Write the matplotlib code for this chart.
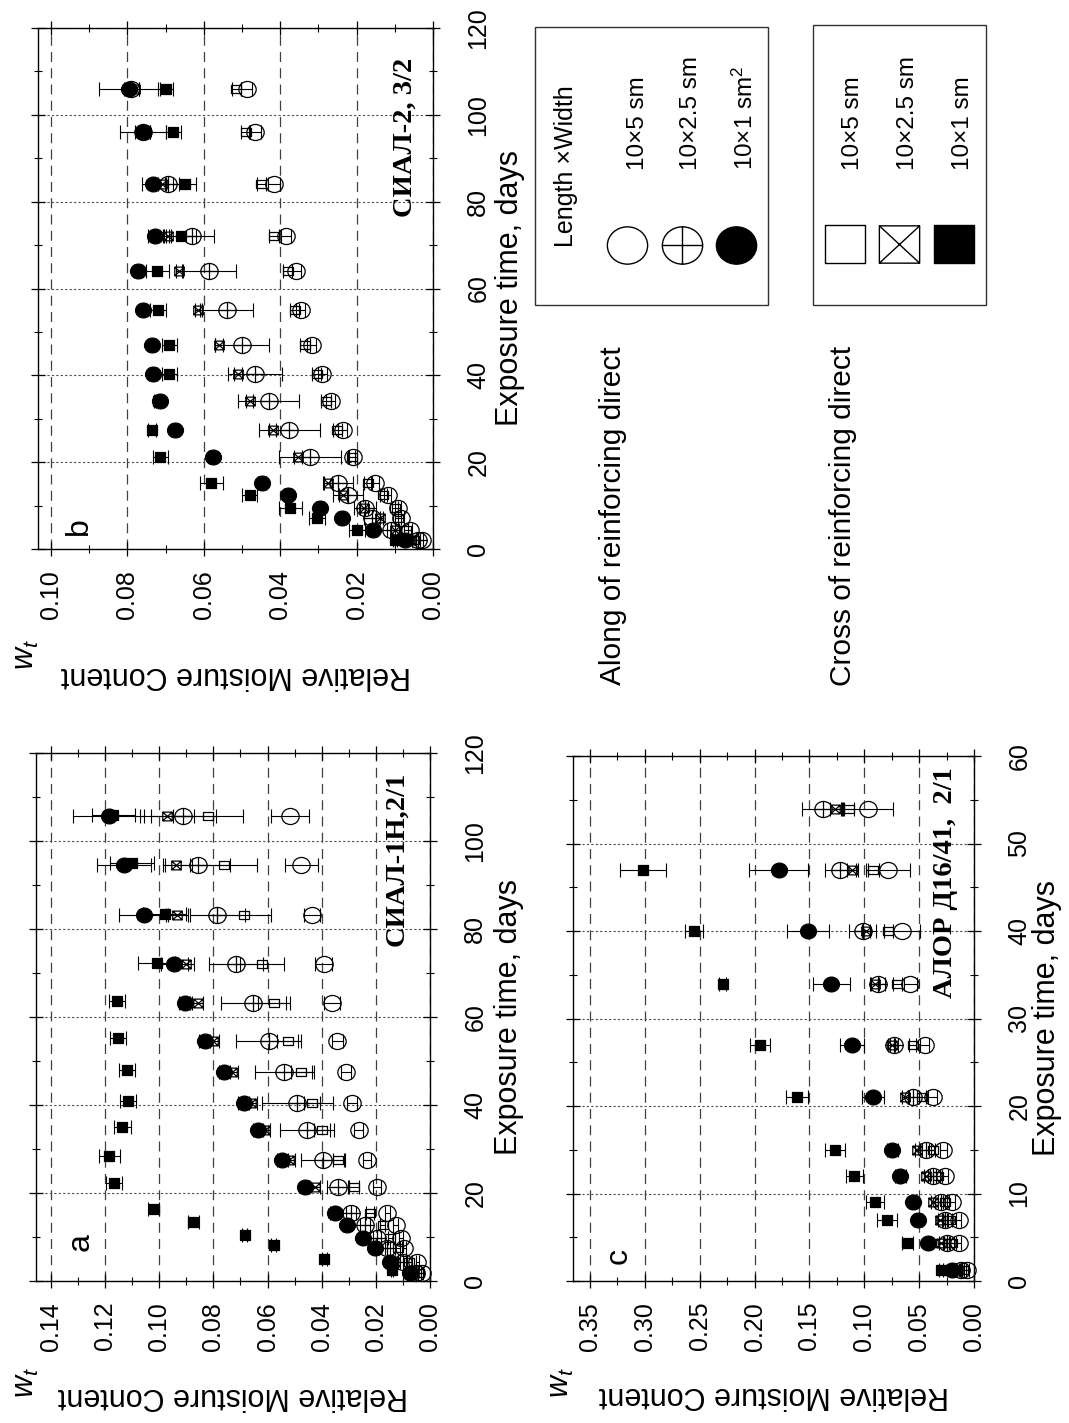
import numpy as np
import matplotlib
matplotlib.use("Agg")
import matplotlib.pyplot as plt
from matplotlib.path import Path
from matplotlib.patches import Rectangle
from matplotlib.ticker import MultipleLocator, FormatStrFormatter

plt.rcParams['font.family'] = ['Liberation Sans', 'DejaVu Sans']
plt.rcParams['mathtext.fontset'] = 'custom'
plt.rcParams['mathtext.it'] = 'Liberation Sans:italic'
plt.rcParams['mathtext.rm'] = 'Liberation Sans'

nan = np.nan

# ---- panel a: СИАЛ-1Н,2/1 ----
a_days = [1.8, 4.3, 7.5, 9.8, 12.7, 15.5, 21.4, 27.5, 34.3, 40.5, 47.5, 54.5, 63.2, 72, 83.1, 94.5, 105.7]
a_days_sq = [2.5, 5, 8.2, 10.5, 13.4, 16.3, 22.3, 28.3, 35, 41, 48, 55.3, 63.7, 72.2, 83.5, 95, 106]
a_open_circ = [0.003, 0.0047, 0.0095, 0.0108, 0.0127, 0.0158, 0.0196, 0.0232, 0.0264, 0.0288, 0.031, 0.0342, 0.0361, 0.0393, 0.0437, 0.0475, 0.0516]
a_plus_circ = [0.005, 0.010, 0.0158, 0.0196, 0.024, 0.0292, 0.034, 0.0395, 0.0455, 0.049, 0.0538, 0.0595, 0.0652, 0.0716, 0.0785, 0.0858, 0.0912]
a_fill_circ = [0.0074, 0.0148, 0.0203, 0.0248, 0.0307, 0.035, 0.046, 0.0545, 0.0635, 0.0688, 0.076, 0.0832, 0.0906, 0.0944, 0.1058, 0.1131, 0.1187]
a_open_sq = [0.004, 0.0076, 0.012, 0.0146, 0.0175, 0.022, 0.0282, 0.0338, 0.040, 0.0436, 0.0475, 0.0526, 0.0576, 0.062, 0.0688, 0.076, 0.082]
a_cross_sq = [0.006, 0.013, 0.020, 0.025, 0.031, 0.036, 0.0425, 0.052, 0.061, 0.066, 0.073, 0.080, 0.0858, 0.090, 0.0934, 0.0937, 0.097]
a_fill_sq = [0.014, 0.039, 0.0577, 0.0684, 0.0874, 0.102, 0.1168, 0.1184, 0.1136, 0.1115, 0.1118, 0.1153, 0.1155, 0.101, 0.098, 0.110, 0.117]
a_open_circ_err = [0.0005, 0.0005, 0.0008, 0.0008, 0.001, 0.001, 0.0015, 0.0015, 0.0015, 0.002, 0.002, 0.002, 0.003, 0.003, 0.003, 0.006, 0.007]
a_plus_circ_err = [0.0005, 0.001, 0.001, 0.0015, 0.002, 0.002, 0.004, 0.008, 0.010, 0.013, 0.011, 0.012, 0.012, 0.010, 0.010, 0.012, 0.012]
a_fill_circ_err = [0.0005, 0.001, 0.001, 0.001, 0.001, 0.001, 0.001, 0.002, 0.002, 0.002, 0.002, 0.002, 0.002, 0.005, 0.009, 0.010, 0.013]
a_open_sq_err = [0.0005, 0.001, 0.001, 0.001, 0.001, 0.0015, 0.002, 0.002, 0.003, 0.003, 0.004, 0.004, 0.006, 0.008, 0.010, 0.012, 0.013]
a_cross_sq_err = [0.0005, 0.001, 0.001, 0.001, 0.001, 0.001, 0.002, 0.002, 0.002, 0.002, 0.002, 0.002, 0.002, 0.003, 0.004, 0.005, 0.010]
a_fill_sq_err = [0.0005, 0.001, 0.001, 0.001, 0.002, 0.002, 0.003, 0.004, 0.003, 0.003, 0.003, 0.003, 0.003, 0.007, 0.008, 0.008, 0.008]

# ---- panel b: СИАЛ-2, 3/2 ----
b_days = [2, 4.4, 7.1, 9.4, 12.4, 15.1, 21.3, 27.3, 34.2, 40.4, 47, 55, 64, 72, 84, 96, 106]
b_open_circ = [0.003, 0.006, 0.0083, 0.0092, 0.0119, 0.0152, 0.0209, 0.0236, 0.0268, 0.029, 0.0317, 0.0346, 0.0358, 0.0385, 0.0416, 0.0466, 0.0488]
b_plus_circ = [0.004, 0.011, 0.016, 0.0178, 0.0223, 0.0249, 0.0322, 0.0376, 0.043, 0.0466, 0.050, 0.054, 0.0586, 0.0632, 0.0695, 0.076, 0.079]
b_fill_circ = [0.0074, 0.0157, 0.0238, 0.0296, 0.038, 0.0448, 0.0577, 0.0676, 0.0714, 0.0733, 0.0736, 0.076, 0.0772, 0.0727, 0.0732, 0.076, 0.0795]
b_open_sq = [0.005, 0.007, 0.0092, 0.010, 0.013, 0.017, 0.0213, 0.025, 0.028, 0.0304, 0.0335, 0.0362, 0.038, 0.0416, 0.045, 0.049, 0.0515]
b_cross_sq = [0.006, 0.010, 0.014, 0.018, 0.0236, 0.0275, 0.0353, 0.042, 0.048, 0.051, 0.056, 0.0614, 0.0664, 0.0695, 0.071, 0.075, 0.078]
b_fill_sq = [0.010, 0.0199, 0.0304, 0.0374, 0.048, 0.058, 0.0714, 0.0736, 0.072, 0.069, 0.069, 0.072, 0.0722, 0.066, 0.065, 0.068, 0.070]
b_open_circ_err = [0.0005, 0.0005, 0.0008, 0.0008, 0.001, 0.001, 0.001, 0.0012, 0.0012, 0.0012, 0.0012, 0.0012, 0.0012, 0.0012, 0.0015, 0.0015, 0.0015]
b_plus_circ_err = [0.0005, 0.001, 0.002, 0.003, 0.004, 0.004, 0.008, 0.008, 0.008, 0.007, 0.007, 0.007, 0.007, 0.006, 0.003, 0.002, 0.002]
b_fill_circ_err = [0.0005, 0.001, 0.001, 0.001, 0.001, 0.001, 0.001, 0.001, 0.001, 0.001, 0.001, 0.001, 0.001, 0.002, 0.003, 0.006, 0.008]
b_open_sq_err = [0.0005, 0.0005, 0.0008, 0.0008, 0.001, 0.001, 0.001, 0.0012, 0.0012, 0.0012, 0.0012, 0.0012, 0.0012, 0.0012, 0.0012, 0.0012, 0.0012]
b_cross_sq_err = [0.0005, 0.001, 0.001, 0.001, 0.001, 0.001, 0.001, 0.001, 0.001, 0.001, 0.001, 0.001, 0.001, 0.001, 0.001, 0.001, 0.001]
b_fill_sq_err = [0.0005, 0.002, 0.002, 0.003, 0.002, 0.003, 0.002, 0.001, 0.001, 0.002, 0.002, 0.002, 0.003, 0.004, 0.003, 0.002, 0.002]

# ---- panel c: АЛОР Д16/41, 2/1 ----
c_days = [1.3, 4.3, 7, 9, 12, 15, 21, 27, 34, 40, 47, 54]
c_open_circ = [0.006, 0.014, 0.014, 0.020, 0.0266, 0.028, 0.0375, 0.045, 0.058, 0.0656, 0.078, 0.097]
c_plus_circ = [0.012, 0.025, 0.0266, 0.0297, 0.0375, 0.044, 0.056, 0.073, 0.0875, 0.1016, 0.122, 0.1375]
c_fill_circ = [0.020, 0.042, 0.051, 0.0556, 0.067, 0.0747, 0.092, 0.111, 0.130, 0.1516, 0.178, nan]
c_open_sq = [0.010, 0.020, 0.022, 0.0266, 0.033, 0.0375, 0.047, 0.056, 0.070, 0.078, 0.092, 0.114]
c_cross_sq = [0.015, 0.030, 0.031, 0.0375, 0.044, 0.0516, 0.0625, 0.075, 0.0906, 0.0984, 0.111, 0.1266]
c_fill_sq = [0.030, 0.061, 0.079, 0.090, 0.109, 0.127, 0.161, 0.195, 0.229, 0.255, 0.3016, nan]
c_open_circ_err = [0.001, 0.002, 0.002, 0.003, 0.003, 0.003, 0.004, 0.004, 0.006, 0.016, 0.020, 0.023]
c_plus_circ_err = [0.001, 0.002, 0.002, 0.003, 0.003, 0.003, 0.004, 0.004, 0.006, 0.012, 0.014, 0.019]
c_fill_circ_err = [0.002, 0.003, 0.004, 0.004, 0.005, 0.005, 0.010, 0.011, 0.017, 0.019, 0.027, nan]
c_open_sq_err = [0.001, 0.002, 0.002, 0.002, 0.002, 0.002, 0.003, 0.003, 0.004, 0.004, 0.005, 0.005]
c_cross_sq_err = [0.001, 0.002, 0.002, 0.002, 0.002, 0.002, 0.003, 0.003, 0.004, 0.004, 0.005, 0.005]
c_fill_sq_err = [0.002, 0.005, 0.009, 0.008, 0.008, 0.009, 0.010, 0.009, 0.003, 0.008, 0.021, nan]

along_labels = ['10×5 sm', '10×2.5 sm', '10×1 sm$^2$']
cross_labels = ['10×5 sm', '10×2.5 sm', '10×1 sm']


# marker shapes (slightly wide, like the scanned figure)
def ellipse_marker(cross=False, aspect=1.08):
    circ = Path.unit_circle()
    verts = [(x * aspect, y) for x, y in circ.vertices]
    codes = list(circ.codes)
    if cross:
        verts += [(-aspect, 0), (aspect, 0), (0, -1), (0, 1)]
        codes += [Path.MOVETO, Path.LINETO, Path.MOVETO, Path.LINETO]
    return Path(verts, codes)


def rect_marker(cross=False, aspect=1.08):
    a = aspect
    verts = [(-a, -1), (a, -1), (a, 1), (-a, 1), (-a, -1)]
    codes = [Path.MOVETO, Path.LINETO, Path.LINETO, Path.LINETO, Path.CLOSEPOLY]
    if cross:
        verts += [(-a, -1), (a, 1), (-a, 1), (a, -1)]
        codes += [Path.MOVETO, Path.LINETO, Path.MOVETO, Path.LINETO]
    return Path(verts, codes)


STYLES = {
    'open_circ': (ellipse_marker(), 12.5, 'none'),
    'plus_circ': (ellipse_marker(cross=True), 12.5, 'none'),
    'fill_circ': (ellipse_marker(), 11.5, 'black'),
    'open_sq': (rect_marker(), 6.8, 'none'),
    'cross_sq': (rect_marker(cross=True), 6.8, 'none'),
    'fill_sq': (rect_marker(), 7.2, 'black'),
}

W, H = 1069, 1423
fig = plt.figure(figsize=(W / 100, H / 100), dpi=100)

# overlay in pixel coordinates for the legend boxes and free text
ov = fig.add_axes([0, 0, 1, 1])
ov.set_xlim(0, W)
ov.set_ylim(H, 0)
ov.axis('off')


def px_axes(x0, y0, x1, y1):
    return fig.add_axes([x0 / W, 1 - y1 / H, (x1 - x0) / W, (y1 - y0) / H])


def draw_panel(ax, series, wmax, wstep, tmax, tstep,
               letter, letter_xy, title, title_xy, xlab_y, ylab_x, wt_xy):
    for key, days, vals, errs in series:
        path, ms, fc = STYLES[key]
        ax.errorbar(vals, days, xerr=errs, fmt='none', ecolor='black',
                    elinewidth=0.8, capsize=5, capthick=0.8, clip_on=False)
        ax.plot(vals, days, linestyle='none', marker=path, markersize=ms,
                markerfacecolor=fc, markeredgecolor='black',
                markeredgewidth=0.9, clip_on=False, zorder=3)

    ax.set_xlim(wmax, 0)
    ax.set_ylim(0, tmax)
    ax.xaxis.set_major_locator(MultipleLocator(wstep))
    ax.xaxis.set_minor_locator(MultipleLocator(wstep / 2))
    ax.xaxis.set_major_formatter(FormatStrFormatter('%.2f'))
    ax.yaxis.set_major_locator(MultipleLocator(tstep))
    ax.yaxis.set_minor_locator(MultipleLocator(tstep / 2))

    ax.tick_params(which='both', direction='inout', top=True, bottom=True,
                   left=True, right=True, labelleft=False, labelright=True,
                   labelbottom=True, labeltop=False)
    ax.tick_params(which='major', length=10, width=0.9)
    ax.tick_params(which='minor', length=6, width=0.8)
    ax.tick_params(axis='x', labelrotation=90, pad=10, labelsize=18)
    ax.tick_params(axis='y', labelrotation=90, pad=19, labelsize=18)
    for t in ax.yaxis.get_major_ticks():
        t.label2.set_va('center')

    ax.grid(True, axis='x', which='major', linestyle=(0, (8, 5)),
            linewidth=0.9, color='0.25')
    ax.grid(True, axis='y', which='major', linestyle=(0, (2, 2)),
            linewidth=0.8, color='0.3')
    for s in ax.spines.values():
        s.set_linewidth(1.0)

    ax.set_xlabel('Relative Moisture Content', rotation=180, fontsize=22,
                  va='center')
    ax.xaxis.set_label_coords(0.5, xlab_y)
    ax.yaxis.set_label_position('right')
    ax.set_ylabel('Exposure time, days', rotation=90, fontsize=22, va='center')
    ax.yaxis.set_label_coords(ylab_x, 0.5)

    ax.text(wt_xy[0], wt_xy[1], '$w_t$', transform=ax.transAxes, rotation=90,
            fontsize=22, ha='center', va='center')
    ax.text(letter_xy[0], letter_xy[1], letter, transform=ax.transAxes,
            rotation=90, fontsize=23, ha='center', va='center')
    ax.text(title_xy[0], title_xy[1], title, transform=ax.transAxes,
            rotation=90, fontsize=20.5, fontweight='bold',
            family=['Liberation Serif', 'DejaVu Serif'],
            ha='center', va='center')


ax_b = px_axes(38, 28, 433, 549)
draw_panel(ax_b,
           [('open_circ', b_days, b_open_circ, b_open_circ_err),
            ('plus_circ', b_days, b_plus_circ, b_plus_circ_err),
            ('open_sq', b_days, b_open_sq, b_open_sq_err),
            ('cross_sq', b_days, b_cross_sq, b_cross_sq_err),
            ('fill_sq', b_days, b_fill_sq, b_fill_sq_err),
            ('fill_circ', b_days, b_fill_circ, b_fill_circ_err)],
           0.1034, 0.02, 120, 20,
           'b', (0.104, 0.044), 'СИАЛ-2, 3/2', (0.929, 0.79),
           -0.242, 1.195, (-0.030, -0.202))

ax_a = px_axes(36, 753, 430, 1281)
draw_panel(ax_a,
           [('open_circ', a_days, a_open_circ, a_open_circ_err),
            ('plus_circ', a_days, a_plus_circ, a_plus_circ_err),
            ('open_sq', a_days, a_open_sq, a_open_sq_err),
            ('cross_sq', a_days, a_cross_sq, a_cross_sq_err),
            ('fill_sq', a_days_sq, a_fill_sq, a_fill_sq_err),
            ('fill_circ', a_days, a_fill_circ, a_fill_circ_err)],
           0.1455, 0.02, 120, 20,
           'a', (0.112, 0.074), 'СИАЛ-1Н,2/1', (0.916, 0.80),
           -0.218, 1.20, (-0.025, -0.193))

ax_c = px_axes(573, 756, 974, 1281)
draw_panel(ax_c,
           [('open_circ', c_days, c_open_circ, c_open_circ_err),
            ('plus_circ', c_days, c_plus_circ, c_plus_circ_err),
            ('open_sq', c_days, c_open_sq, c_open_sq_err),
            ('cross_sq', c_days, c_cross_sq, c_cross_sq_err),
            ('fill_sq', c_days, c_fill_sq, c_fill_sq_err),
            ('fill_circ', c_days, c_fill_circ, c_fill_circ_err)],
           0.3655, 0.05, 60, 10,
           'c', (0.115, 0.048), 'АЛОР Д16/41,  2/1', (0.930, 0.758),
           -0.218, 1.182, (-0.030, -0.194))

# ---- legend boxes ----
ov.add_patch(Rectangle((535, 27), 233, 278, fill=False, lw=1.0, ec='0.2'))
ov.add_patch(Rectangle((813, 25), 173, 280, fill=False, lw=1.0, ec='0.2'))
ov.text(566, 166, 'Length ×Width', rotation=90, fontsize=18,
        ha='center', va='center')

along_keys = ['open_circ', 'plus_circ', 'fill_circ']
cross_keys = ['open_sq', 'cross_sq', 'fill_sq']
along_x = [627, 682, 736]
cross_x = [845, 899, 954]
along_text_x = [638, 691, 745]
cross_text_x = [853, 908, 963]
for key, mx, tx, lab in zip(along_keys, along_x, along_text_x, along_labels):
    path, ms, fc = STYLES[key]
    ov.plot(mx, 245, marker=path, markersize=29, markerfacecolor=fc,
            markeredgecolor='black', markeredgewidth=1.0)
    ov.text(tx, 170, lab, rotation=90, fontsize=17.5, ha='center', va='bottom')
for key, mx, tx, lab in zip(cross_keys, cross_x, cross_text_x, cross_labels):
    path, ms, fc = STYLES[key]
    ov.plot(mx, 244, marker=path, markersize=29, markerfacecolor=fc,
            markeredgecolor='black', markeredgewidth=1.0)
    ov.text(tx, 170, lab, rotation=90, fontsize=17.5, ha='center', va='bottom')

ov.text(613, 516, 'Along of reinforcing direct', rotation=90, fontsize=21.5,
        ha='center', va='center')
ov.text(843, 516, 'Cross of reinforcing direct', rotation=90, fontsize=21.5,
        ha='center', va='center')

fig.savefig('out.png', dpi=100)
